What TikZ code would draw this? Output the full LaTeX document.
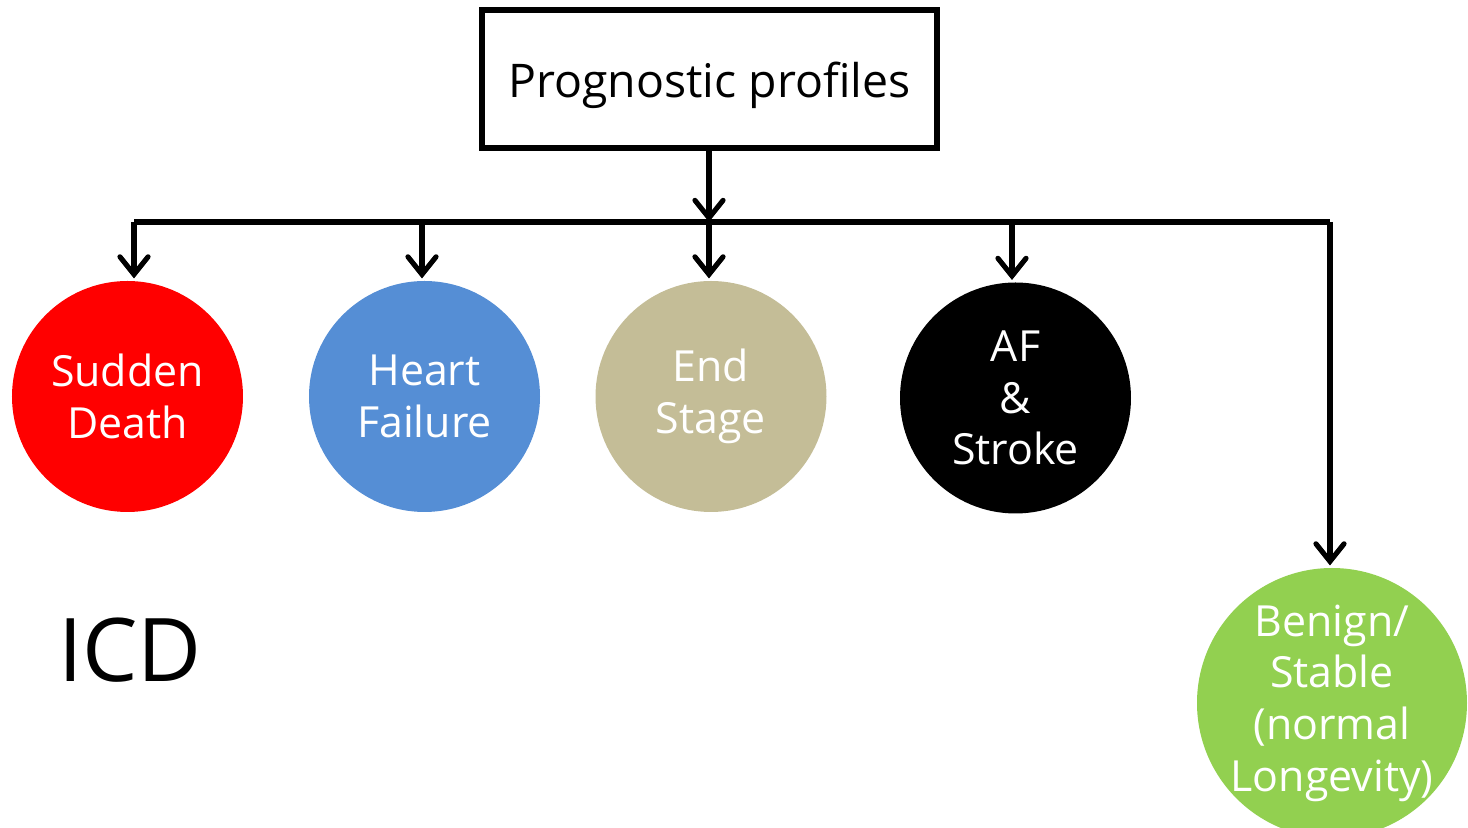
\documentclass[tikz,border=0pt]{standalone}
\usepackage{fontspec}
\setmainfont{Open Sans}
\usetikzlibrary{arrows.meta}
\definecolor{sdred}{HTML}{FF0000}
\definecolor{hfblue}{HTML}{558ED5}
\definecolor{estan}{HTML}{C4BD97}
\definecolor{bsgreen}{HTML}{92D050}

\begin{document}
\begin{tikzpicture}[line width=1.45pt, >={Straight Barb[length=5pt,width=8pt,line cap=round]}]
    \useasboundingbox (0,0) rectangle (14.68,8.28);
    %% prognostic profiles box
    \node (pp) [draw=black, minimum width=4.55cm, minimum height=1.38cm, text height=14pt, text depth=3.3pt, font=\fontsize{13.2}{16}\selectfont] at (7.095,7.49) {Prognostic profiles};
    %% branch line
    \coordinate (j) at (7.09,6.06);
    \coordinate (b1) at (1.34,6.06);
    \coordinate (b2) at (4.22,6.06);
    \coordinate (b3) at (7.09,6.06);
    \coordinate (b4) at (10.12,6.06);
    \coordinate (b5) at (13.30,6.06);
    \draw [->] (pp.south -| j) -- (j);
    \draw (b1) -- (b5);
    %% profile circles
    \tikzstyle {profilecircle} = [shape=circle, minimum size=2.31cm, inner sep=0pt, text=white, align=center, font=\fontsize{12.2}{14.7}\selectfont];
    \node (sd) [profilecircle, fill=sdred] at (1.275,4.315) {Sudden\\Death};
    \node (hf) [profilecircle, fill=hfblue] at (4.245,4.315) {Heart\\Failure};
    \node (es) [profilecircle, fill=estan] at (7.11,4.315) {End\\Stage};
    \node (af) [profilecircle, fill=black] at (10.155,4.3) {AF\\\&\\Stroke};
    \node (bs) [profilecircle, fill=bsgreen, minimum size=2.7cm] at (13.32,1.25) {};
    \node (bstext) [text=white, align=center, font=\fontsize{12.2}{14.7}\selectfont] at (bs) {Benign/\\Stable\\(normal\\Longevity)};
    \draw [->] (b1) -- (b1 |- sd.north);
    \draw [->] (b2) -- (b2 |- hf.north);
    \draw [->] (b3) -- (b3 |- es.north);
    \draw [->] (b4) -- (b4 |- af.north);
    \draw [->] (b5) -- (b5 |- bs.north);
    %% ICD label
    \node (icd) [font=\fontsize{25}{30}\selectfont] at (1.30,1.78) {ICD};
\end{tikzpicture}
\end{document}
